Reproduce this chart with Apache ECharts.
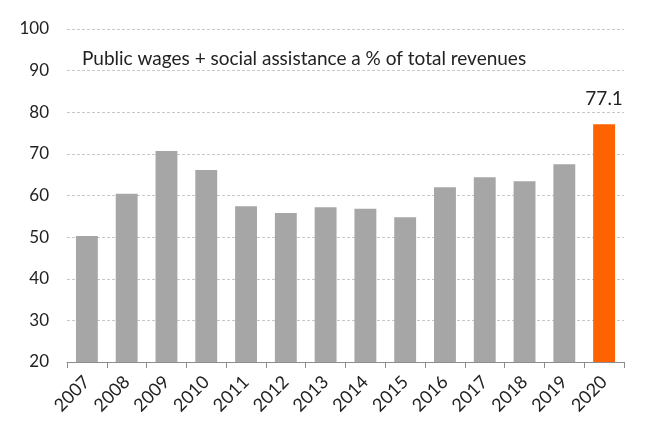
<!DOCTYPE html>
<html>
<head>
<meta charset="utf-8">
<script src="https://cdn.jsdelivr.net/npm/echarts@6/dist/echarts.min.js"></script>
<style>
  html, body { margin: 0; padding: 0; background: #fff; }
  #main { width: 654px; height: 438px; }
</style>
</head>
<body>
<div id="main"></div>
<script>
// years and share of total revenues (%)
var years = ['2007', '2008', '2009', '2010', '2011', '2012', '2013', '2014', '2015', '2016', '2017', '2018', '2019', '2020'];
var shares = [50.3, 60.4, 70.7, 66.1, 57.4, 55.8, 57.2, 56.8, 54.8, 62.0, 64.4, 63.4, 67.5, 77.1];
var titleText = 'Public wages + social assistance a % of total revenues';

var font = 'Lato';
var chart = echarts.init(document.getElementById('main'));

var barData = shares.map(function (v, i) {
  var last = i === shares.length - 1;
  return {
    value: v,
    itemStyle: { color: last ? '#ff6200' : '#a6a6a6' },
    label: {
      show: last,
      position: 'top',
      distance: 16,
      fontSize: 19,
      fontFamily: font,
      color: '#222'
    }
  };
});

chart.setOption({
  animation: false,
  backgroundColor: '#fff',
  title: {
    text: titleText,
    left: 82,
    top: 49,
    padding: 0,
    textStyle: { fontFamily: font, fontSize: 19, fontWeight: 'normal', color: '#222' }
  },
  grid: { left: 67, right: 30, top: 29, bottom: 76 },
  xAxis: {
    type: 'category',
    data: years,
    axisLine: { lineStyle: { color: '#8c8c8c', width: 1 } },
    axisTick: { show: true, length: 6, lineStyle: { color: '#8c8c8c' } },
    axisLabel: {
      rotate: 45,
      margin: 17,
      fontSize: 18,
      fontFamily: font,
      color: '#222'
    }
  },
  yAxis: {
    type: 'value',
    min: 20,
    max: 100,
    interval: 10,
    axisLine: { show: false },
    axisTick: { show: false },
    axisLabel: { margin: 18, fontSize: 17, fontFamily: font, color: '#222' },
    splitLine: { lineStyle: { color: '#c8c8c8', type: [3, 2], width: 1 } }
  },
  series: [{
    type: 'bar',
    data: barData,
    barWidth: '55%'
  }]
});
</script>
</body>
</html>
